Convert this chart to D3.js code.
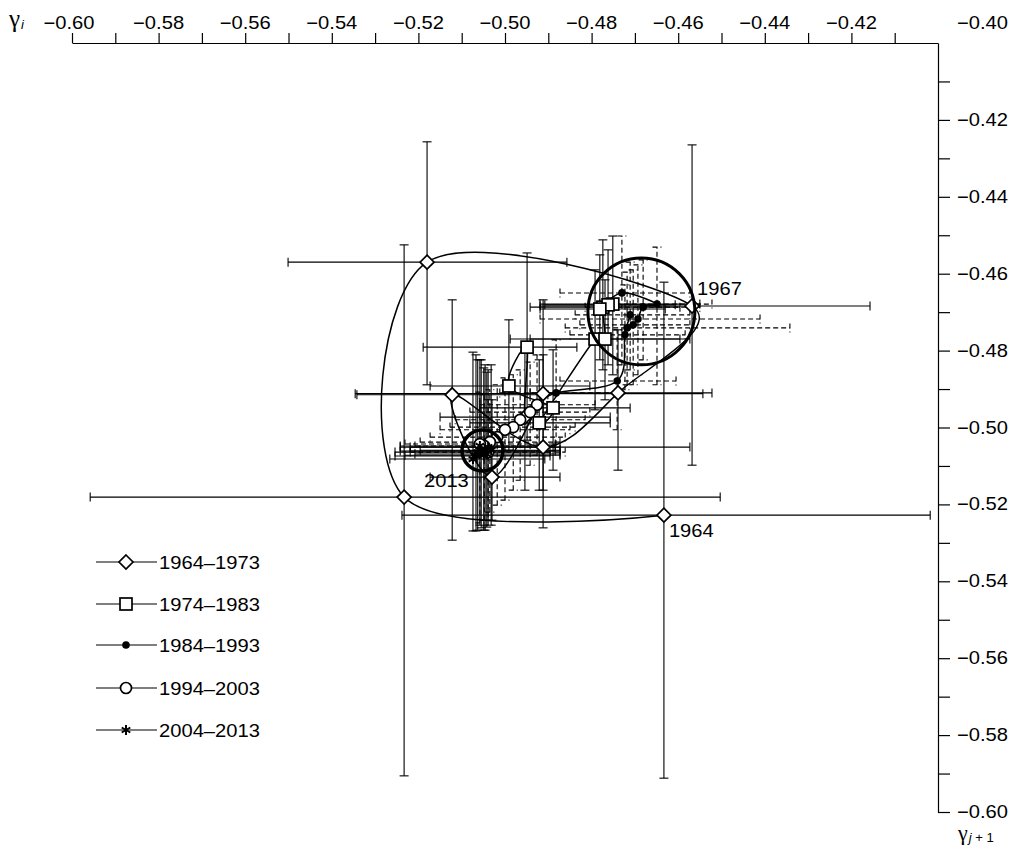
<!DOCTYPE html>
<html>
<head>
<meta charset="utf-8">
<script src="https://d3js.org/d3.v7.min.js"></script>
<style>
  body { margin: 0; background: #fff; }
  text { font-family: "Liberation Sans", Arial, sans-serif; fill: #000; }
</style>
</head>
<body>
<svg width="1012" height="848"></svg>
<script>
// one row per year, 1964 .. 2013
const years = [1964,1965,1966,1967,1968,1969,1970,1971,1972,1973,
               1974,1975,1976,1977,1978,1979,1980,1981,1982,1983,
               1984,1985,1986,1987,1988,1989,1990,1991,1992,1993,
               1994,1995,1996,1997,1998,1999,2000,2001,2002,2003,
               2004,2005,2006,2007,2008,2009,2010,2011,2012,2013];
const decades = ["1964–1973", "1974–1983", "1984–1993", "1994–2003", "2004–2013"];

// gamma_{j+1} (horizontal) and gamma_j (vertical)
const gNext = [-0.4633,-0.5233,-0.5180,-0.4568,-0.4739,-0.4912,-0.5122,-0.5030,-0.4912,-0.4954,
               -0.4949,-0.4991,-0.4889,-0.4921,-0.4792,-0.4769,-0.4774,-0.4751,-0.4762,-0.4781,
               -0.4730,-0.4649,-0.4681,-0.4693,-0.4704,-0.4718,-0.4711,-0.4723,-0.4741,-0.4882,
               -0.4926,-0.4942,-0.4965,-0.4981,-0.5000,-0.5018,-0.5035,-0.5048,-0.5039,-0.5058,
               -0.5039,-0.5055,-0.5032,-0.5049,-0.5063,-0.5042,-0.5058,-0.5046,-0.5067,-0.5074];
const gCur  = [-0.5228,-0.5181,-0.4570,-0.4684,-0.4910,-0.5051,-0.4915,-0.5129,-0.4912,-0.4973,
               -0.4791,-0.4892,-0.4949,-0.4988,-0.4770,-0.4770,-0.4687,-0.4679,-0.4681,-0.4692,
               -0.4650,-0.4679,-0.4687,-0.4718,-0.4733,-0.4741,-0.4707,-0.4759,-0.4879,-0.4910,
               -0.4941,-0.4960,-0.4980,-0.4999,-0.5006,-0.5025,-0.5038,-0.5048,-0.5064,-0.5043,
               -0.5051,-0.5061,-0.5059,-0.5072,-0.5064,-0.5069,-0.5048,-0.5061,-0.5074,-0.5082];

// error bar ends
const xLow  = [-0.5238,-0.5958,-0.5501,-0.4919,-0.4942,-0.5242,-0.5342,-0.5173,-0.5346,-0.5150,
               -0.5189,-0.5173,-0.5058,-0.5081,-0.4988,-0.4942,-0.4942,-0.4919,-0.4908,-0.4919,
               -0.4873,-0.4781,-0.4815,-0.4919,-0.4827,-0.4861,-0.4838,-0.4850,-0.4873,-0.5012,
               -0.5058,-0.5081,-0.5115,-0.5127,-0.5150,-0.5173,-0.5196,-0.5208,-0.5219,-0.5231,
               -0.5219,-0.5242,-0.5196,-0.5231,-0.5254,-0.5208,-0.5242,-0.5219,-0.5254,-0.5266];
const xHigh = [-0.4018,-0.4503,-0.4857,-0.4157,-0.4522,-0.4573,-0.4901,-0.4873,-0.4543,-0.4757,
               -0.4834,-0.4804,-0.4711,-0.4757,-0.4596,-0.4573,-0.4596,-0.4550,-0.4607,-0.4630,
               -0.4573,-0.4522,-0.4550,-0.4411,-0.4573,-0.4342,-0.4573,-0.4584,-0.4605,-0.4746,
               -0.4792,-0.4804,-0.4815,-0.4838,-0.4850,-0.4861,-0.4873,-0.4884,-0.4861,-0.4884,
               -0.4873,-0.4884,-0.4873,-0.4873,-0.4896,-0.4873,-0.4884,-0.4873,-0.4896,-0.4908];
const yLow  = [-0.5912,-0.5906,-0.4889,-0.5098,-0.5111,-0.5261,-0.5293,-0.5241,-0.5163,-0.5163,
               -0.5033,-0.5059,-0.5111,-0.5163,-0.4954,-0.4928,-0.4850,-0.4863,-0.4837,-0.4824,
               -0.4837,-0.4889,-0.4824,-0.4863,-0.4889,-0.4889,-0.4850,-0.4902,-0.5006,-0.5046,
               -0.5072,-0.5098,-0.5137,-0.5163,-0.5189,-0.5202,-0.5220,-0.5241,-0.5254,-0.5248,
               -0.5241,-0.5261,-0.5254,-0.5267,-0.5267,-0.5259,-0.5254,-0.5267,-0.5269,-0.5269];
const yHigh = [-0.4622,-0.4525,-0.4257,-0.4265,-0.4746,-0.4811,-0.4668,-0.4928,-0.4668,-0.4798,
               -0.4546,-0.4720,-0.4798,-0.4824,-0.4590,-0.4616,-0.4512,-0.4502,-0.4538,-0.4551,
               -0.4502,-0.4531,-0.4564,-0.4577,-0.4590,-0.4596,-0.4570,-0.4629,-0.4746,-0.4772,
               -0.4811,-0.4830,-0.4850,-0.4863,-0.4871,-0.4889,-0.4902,-0.4915,-0.4928,-0.4908,
               -0.4850,-0.4824,-0.4837,-0.4845,-0.4824,-0.4856,-0.4824,-0.4837,-0.4811,-0.4804];

const xMinor = [-0.60,-0.59,-0.58,-0.57,-0.56,-0.55,-0.54,-0.53,-0.52,-0.51,
                -0.50,-0.49,-0.48,-0.47,-0.46,-0.45,-0.44,-0.43,-0.42,-0.41];
const xLabels = [-0.60,-0.58,-0.56,-0.54,-0.52,-0.50,-0.48,-0.46,-0.44,-0.42];
const yMinor = [-0.41,-0.42,-0.43,-0.44,-0.45,-0.46,-0.47,-0.48,-0.49,-0.50,
                -0.51,-0.52,-0.53,-0.54,-0.55,-0.56,-0.57,-0.58,-0.59,-0.60];
const yLabels = [-0.42,-0.44,-0.46,-0.48,-0.50,-0.52,-0.54,-0.56,-0.58,-0.60];

const namedYears = [1964, 1967, 2013];
// the two ringed groups: centre and radius (in gamma units along the horizontal axis)
const ringX = [-0.4685, -0.5052];
const ringY = [-0.4698, -0.5060];
const ringR = [0.01235, 0.00473];

const svg = d3.select("svg");
const x = d3.scaleLinear().domain([-0.60, -0.40]).range([72, 938]);
const y = d3.scaleLinear().domain([-0.40, -0.60]).range([43, 812]);

const fmt = v => "\u2212" + Math.abs(v).toFixed(2);
const SX = 1.12;   // the figure's lettering is a bit wider than Liberation Sans

function label(g, px, py, str, anchor, size) {
  return g.append("text")
    .attr("transform", `translate(${px},${py}) scale(${SX},1)`)
    .attr("text-anchor", anchor || "start")
    .attr("font-size", size || 18)
    .text(str);
}

// axes
svg.append("g").attr("transform", "translate(0,43)")
  .call(d3.axisTop(x).tickValues(xMinor).tickSize(10).tickSizeOuter(0).tickFormat(""));
svg.append("g").attr("transform", "translate(938,0)")
  .call(d3.axisRight(y).tickValues(yMinor).tickSize(12).tickSizeOuter(0).tickFormat(""));
svg.selectAll(".domain, .tick line").attr("stroke", "#000").attr("stroke-width", 1.2);

xLabels.forEach(v => label(svg, x(v) - (v === -0.60 ? 3 : 0), 29, fmt(v), "middle"));
label(svg, 957, 29, fmt(-0.40));
yLabels.forEach(v => label(svg, 957, y(v) + 6, fmt(v)));

// axis names: gamma_i and gamma_{j+1}
function gammaName(px, py, size, sub, rest) {
  const t = svg.append("text").attr("x", px).attr("y", py);
  t.append("tspan").attr("font-family", "Liberation Serif, DejaVu Serif, serif")
    .attr("font-size", size).text("γ");
  t.append("tspan").attr("font-size", 13).attr("dy", 2).attr("dx", 1)
    .attr("font-style", "italic").text(sub);
  if (rest) t.append("tspan").attr("font-size", 13).text(rest);
}
gammaName(9, 27, 25, "i");
gammaName(958, 840, 22, "j", " + 1");

const rows = years.map((yr, i) => ({
  yr, dec: Math.floor(i / 10),
  x: gNext[i], y: gCur[i], x0: xLow[i], x1: xHigh[i], y0: yLow[i], y1: yHigh[i]
}));

// error bars
const dashFor = d => (d.dec === 2 || d.dec === 3) ? "5,3" : null;
const bars = svg.append("g").attr("stroke", "#000").attr("stroke-width", 1.1).attr("fill", "none");
const cap = 4.5;
rows.forEach(d => {
  const g = bars.append("g").attr("stroke-dasharray", dashFor(d));
  const cx = x(d.x), cy = y(d.y);
  g.append("line").attr("x1", x(d.x0)).attr("x2", x(d.x1)).attr("y1", cy).attr("y2", cy);
  g.append("line").attr("x1", cx).attr("x2", cx).attr("y1", y(d.y0)).attr("y2", y(d.y1));
  [x(d.x0), x(d.x1)].forEach(px =>
    g.append("line").attr("stroke-dasharray", null)
      .attr("x1", px).attr("x2", px).attr("y1", cy - cap).attr("y2", cy + cap));
  [y(d.y0), y(d.y1)].forEach(py =>
    g.append("line").attr("stroke-dasharray", null)
      .attr("x1", cx - cap).attr("x2", cx + cap).attr("y1", py).attr("y2", py));
});

// trajectory
const line = d3.line().x(d => x(d.x)).y(d => y(d.y)).curve(d3.curveCardinal.tension(0));
svg.append("path").datum(rows).attr("d", line)
  .attr("fill", "none").attr("stroke", "#000").attr("stroke-width", 1.5);

// markers
function marker(g, dec) {
  if (dec === 0) {
    g.append("path").attr("d", "M0,-7L7,0L0,7L-7,0Z")
      .attr("fill", "#fff").attr("stroke", "#000").attr("stroke-width", 1.7);
  } else if (dec === 1) {
    g.append("rect").attr("x", -6).attr("y", -6).attr("width", 12).attr("height", 12)
      .attr("fill", "#fff").attr("stroke", "#000").attr("stroke-width", 1.7);
  } else if (dec === 2) {
    g.append("circle").attr("r", 3.8).attr("fill", "#000");
  } else if (dec === 3) {
    g.append("circle").attr("r", 5.5)
      .attr("fill", "#fff").attr("stroke", "#000").attr("stroke-width", 1.7);
  } else {
    g.append("path").attr("d", "M0,-5V5M-4.3,-2.5L4.3,2.5M-4.3,2.5L4.3,-2.5")
      .attr("stroke", "#000").attr("stroke-width", 2).attr("fill", "none");
  }
}
svg.append("g").selectAll("g").data(rows).join("g")
  .attr("transform", d => `translate(${x(d.x)},${y(d.y)})`)
  .each(function (d) { marker(d3.select(this), d.dec); });

// rings
ringX.forEach((cx, k) => {
  svg.append("circle").attr("cx", x(cx)).attr("cy", y(ringY[k]))
    .attr("r", x(cx + ringR[k]) - x(cx))
    .attr("fill", "none").attr("stroke", "#000").attr("stroke-width", k === 0 ? 3 : 3.5);
});

// year labels
const offs = { 1964: [5, 22], 1967: [5, -11], 2013: [-49, 28] };
rows.filter(d => namedYears.includes(d.yr)).forEach(d =>
  label(svg, x(d.x) + offs[d.yr][0], y(d.y) + offs[d.yr][1], String(d.yr)));

// legend
const legendY = [562, 604, 645, 688, 730];
decades.forEach((name, k) => {
  const g = svg.append("g").attr("transform", `translate(126,${legendY[k]})`);
  g.append("line").attr("x1", -30).attr("x2", 31).attr("stroke", "#000").attr("stroke-width", 1.1);
  marker(g, k);
  label(g, 33, 7, name);
});
</script>
</body>
</html>
